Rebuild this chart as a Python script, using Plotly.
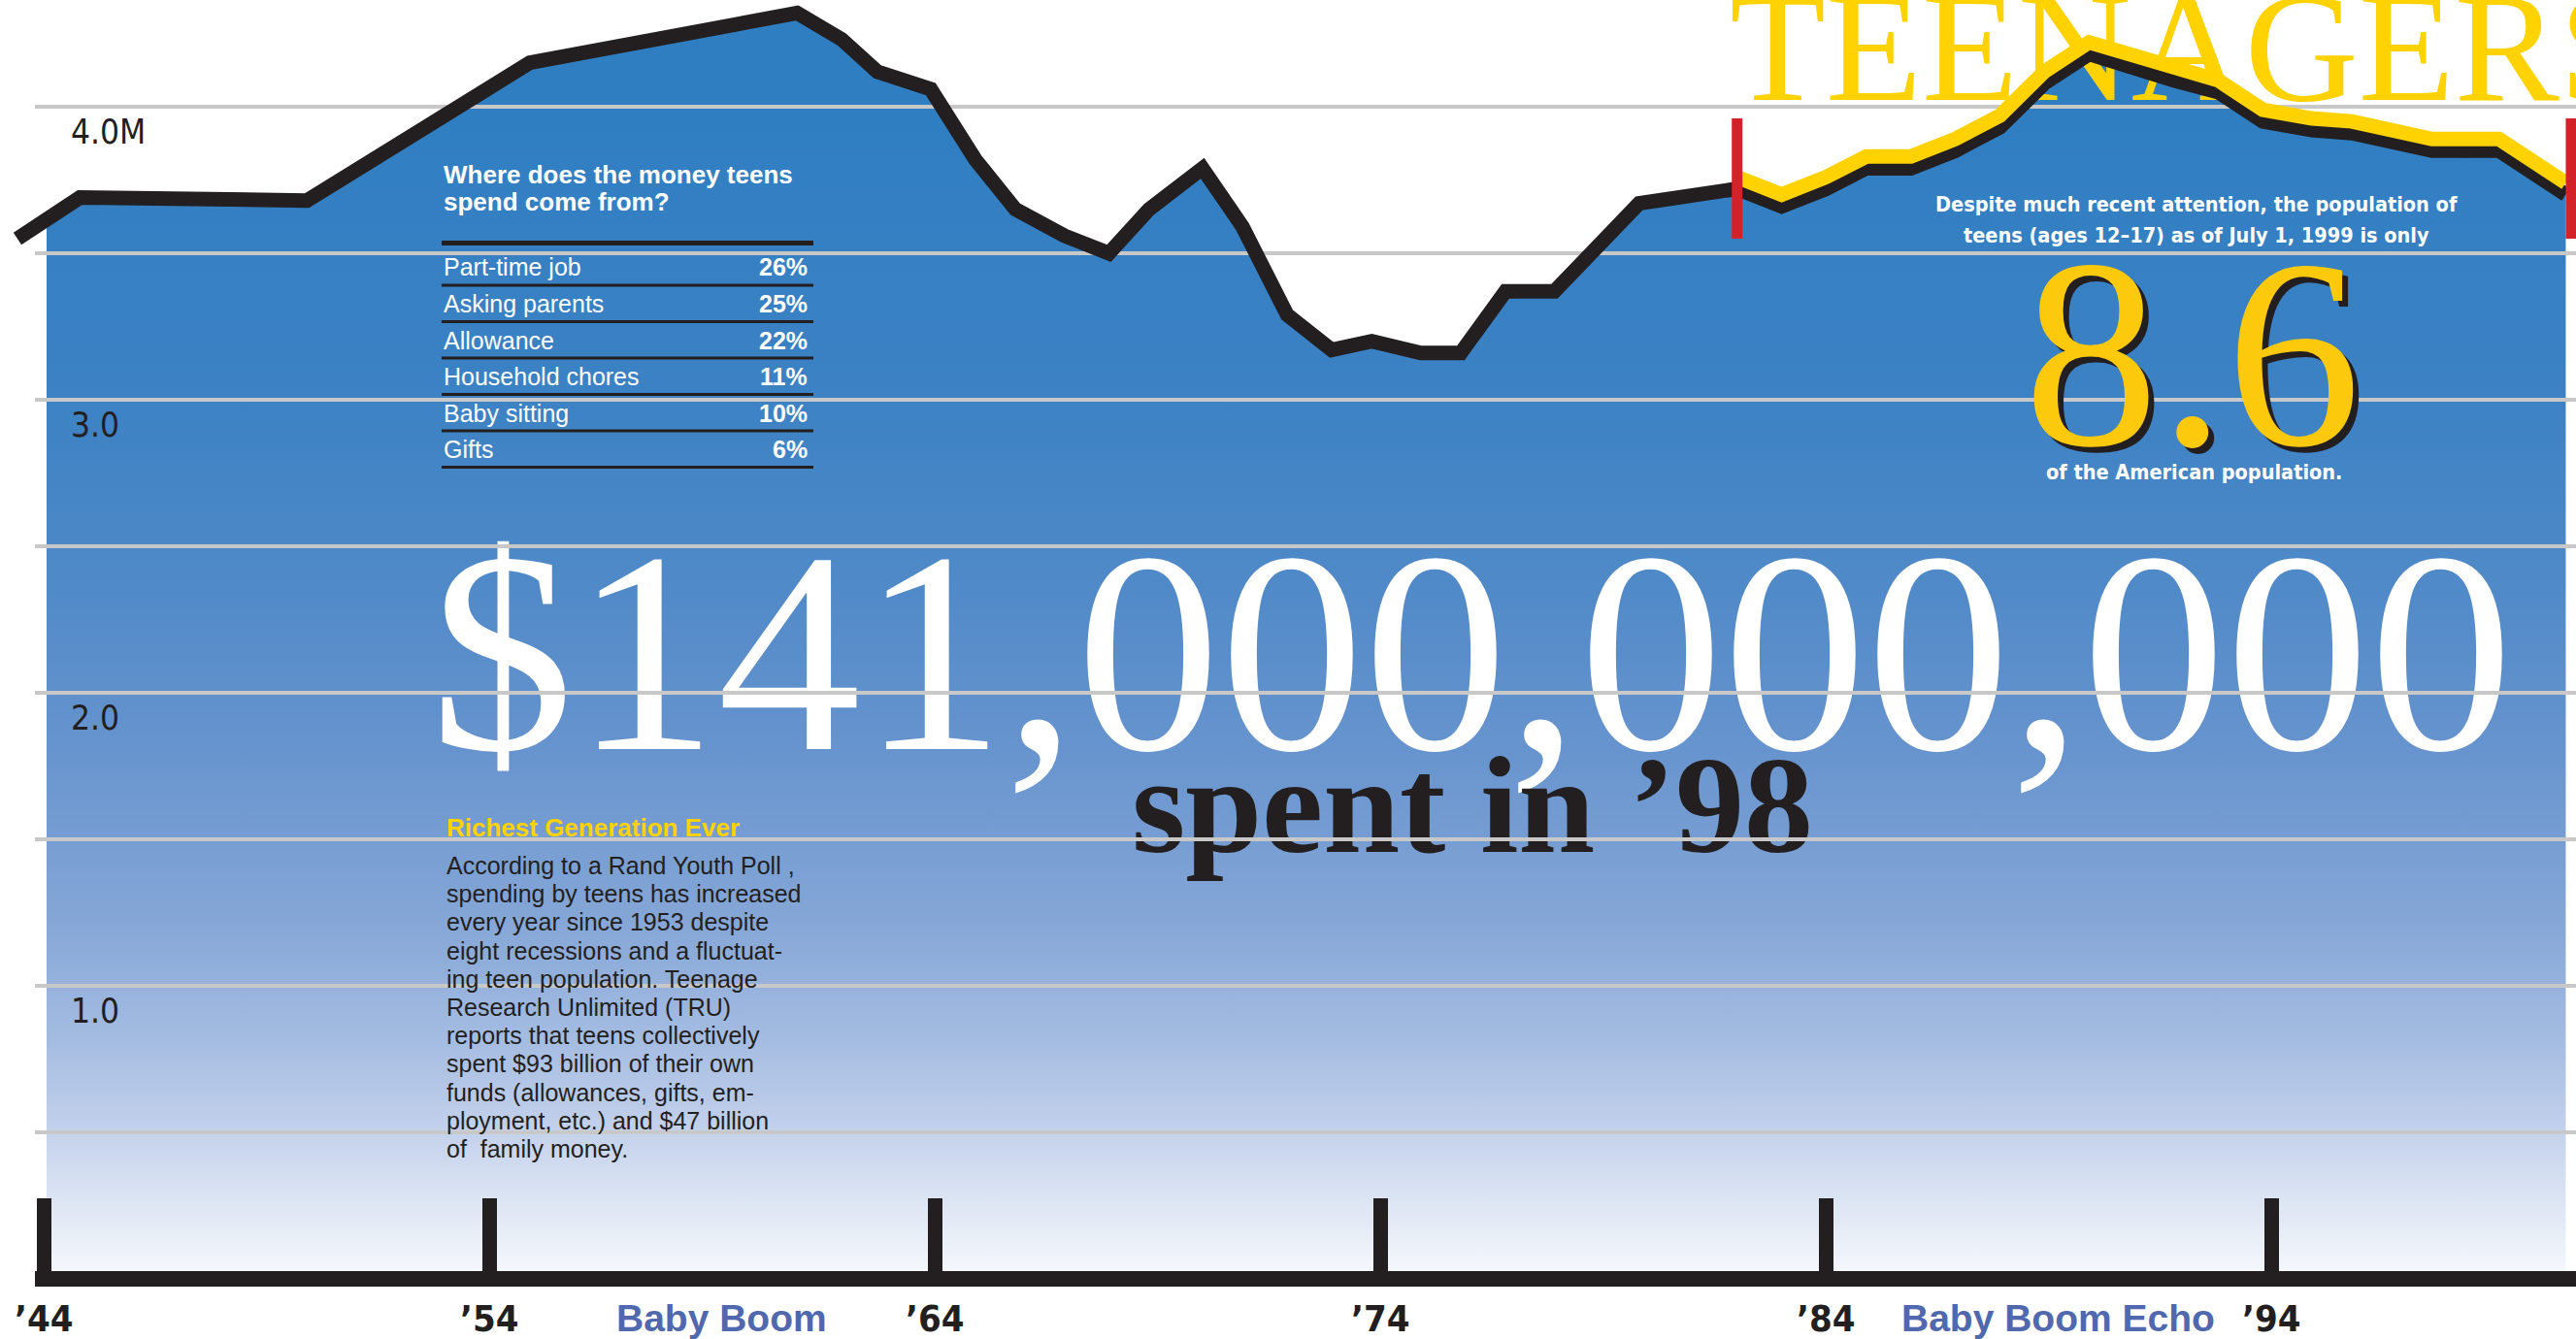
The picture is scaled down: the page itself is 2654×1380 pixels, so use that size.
import numpy as np
import plotly.graph_objects as go

# ---------------- data ----------------
years = [1943.4, 1944.8, 1949.9, 1954.9, 1960.9, 1961.9, 1962.7, 1963.9,
         1964.9, 1965.8, 1966.9, 1967.9, 1968.8, 1970.0, 1970.9, 1971.9,
         1972.9, 1973.8, 1974.9, 1975.8, 1976.8, 1977.9, 1979.8, 1980.9,
         1982.0, 1983.0, 1984.0, 1984.9, 1985.9, 1986.9, 1987.9, 1988.9,
         1989.9, 1991.8, 1992.8, 1993.8, 1994.9, 1995.8, 1997.6, 1999.1,
         2000.6]
births_m = [3.55, 3.69, 3.68, 4.15, 4.32, 4.23, 4.12, 4.06,
            3.82, 3.65, 3.56, 3.50, 3.65, 3.79, 3.59, 3.29,
            3.17, 3.20, 3.16, 3.16, 3.37, 3.37, 3.67, 3.69,
            3.72, 3.66, 3.72, 3.79, 3.79, 3.85, 3.93, 4.08,
            4.18, 4.09, 4.05, 3.95, 3.92, 3.91, 3.85, 3.85,
            3.70]
teen_span = [1982.0, 2000.72]

decade_years = [1944, 1954, 1964, 1974, 1984, 1994]
decade_labels = ["’44", "’54", "’64", "’74", "’84", "’94"]
grid_values = [0.5, 1.0, 1.5, 2.0, 2.5, 3.0, 3.5, 4.0]
y_label_values = [4.0, 3.0, 2.0, 1.0]
y_label_text = ["4.0M", "3.0", "2.0", "1.0"]
era_names = ["Baby Boom", "Baby Boom Echo"]
era_centers = [1959.2, 1989.2]

money_title = ["Where does the money teens", "spend come from?"]
money_sources = ["Part-time job", "Asking parents", "Allowance",
                 "Household chores", "Baby sitting", "Gifts"]
money_shares = [26, 25, 22, 11, 10, 6]

total_spent = "$141,000,000,000"
spent_caption = "spent in ’98"
headline = "TEENAGERS"
teen_share = "8.6"
teen_intro = ["Despite much recent attention, the population of",
              "teens (ages 12–17) as of July 1, 1999 is only"]
teen_outro = "of the American population."
story_title = "Richest Generation Ever"
story_lines = ["According to a Rand Youth Poll ,",
               "spending by teens has increased",
               "every year since 1953 despite",
               "eight recessions and a fluctuat-",
               "ing teen population. Teenage",
               "Research Unlimited (TRU)",
               "reports that teens collectively",
               "spent $93 billion of their own",
               "funds (allowances, gifts, em-",
               "ployment, etc.) and $47 billion",
               "of  family money."]

# ---------------- geometry / style ----------------
W, H = 2654, 1380
ORIGIN_YEAR, ORIGIN_PX, PX_PER_YEAR = 1944, 45.5, 45.9
BASE_PX, PX_PER_M = 1318.0, 302.0

BLACK = "#231f20"
GRID = "#c8c8c8"
YELLOW = "#ffd200"
RED = "#d2232a"
ERA_BLUE = "#5068ae"

SERIF = "Liberation Serif, Times New Roman, DejaVu Serif, serif"
SANS = "Liberation Sans, Arial, Helvetica, sans-serif"
NARROW = "Liberation Sans Narrow, Arial Narrow, DejaVu Sans Condensed, Liberation Sans, sans-serif"


def year_at(px):
    return ORIGIN_YEAR + (px - ORIGIN_PX) / PX_PER_YEAR


def val_at(py):
    return (BASE_PX - py) / PX_PER_M


def pxx(px):
    return px / W


def pyy(py):
    return 1 - py / H


x_range = [year_at(0), year_at(W)]
y_range = [val_at(H), val_at(0)]

fig = go.Figure()

# gradient area under the curve
fill_start = year_at(48)
fx = [fill_start] + [x for x in years if x > fill_start]
fy = [float(np.interp(fill_start, years, births_m))] + \
     [v for x, v in zip(years, births_m) if x > fill_start]
fig.add_trace(go.Scatter(
    x=fx, y=fy, mode="none", fill="tozeroy", hoverinfo="skip",
    fillgradient=dict(
        type="vertical", start=0, stop=4.0,
        colorscale=[[0.0, "#f7f9fd"], [0.06, "#dfe7f4"], [0.12, "#c6d3ec"],
                    [0.2, "#a6bde2"], [0.3, "#86a7d7"], [0.45, "#6794ce"],
                    [0.6, "#4f89c8"], [0.75, "#3c82c4"], [1.0, "#2f7ec2"]])))

# big typographic elements (under the grid)
fig.add_trace(go.Scatter(
    x=[year_at(1516)], y=[val_at(772 - 0.25 * 296)], mode="text",
    text=[total_spent], textposition="middle center", hoverinfo="skip",
    textfont=dict(family=SERIF, size=296, color="white")))
fig.add_trace(go.Scatter(
    x=[year_at(1517)], y=[val_at(878 - 0.25 * 142)], mode="text",
    text=["<b>" + spent_caption + "</b>"], textposition="middle center",
    hoverinfo="skip", textfont=dict(family=SERIF, size=142, color=BLACK)))
HEAD_SIZE = 162
fig.add_trace(go.Scatter(
    x=[year_at(1782)], y=[val_at(103 - 0.25 * HEAD_SIZE)], mode="text",
    text=[headline], textposition="middle right", hoverinfo="skip",
    textfont=dict(family=SERIF, size=HEAD_SIZE, color=YELLOW)))

# horizontal grid lines
gx, gy = [], []
for g in grid_values:
    gx += [year_at(36), year_at(W + 5), None]
    gy += [g, g, None]
fig.add_trace(go.Scatter(x=gx, y=gy, mode="lines", hoverinfo="skip",
                         line=dict(color=GRID, width=4)))

# main black line
fig.add_trace(go.Scatter(x=years, y=births_m, mode="lines", hoverinfo="skip",
                         line=dict(color=BLACK, width=15)))

# yellow highlight for the teen generation (black line acts as its shadow)
SHADOW = 0.04
ty = [(x, v + SHADOW) for x, v in zip(years, births_m) if x >= teen_span[0] - 0.05]
fig.add_trace(go.Scatter(x=[p[0] for p in ty], y=[p[1] for p in ty], mode="lines",
                         hoverinfo="skip", line=dict(color=YELLOW, width=15)))

shapes = []
# axis bar
shapes.append(dict(type="line", xref="paper", yref="y", x0=pxx(36), x1=1.01,
                   y0=0, y1=0, line=dict(color=BLACK, width=16), layer="above"))
# decade ticks
for d in decade_years:
    shapes.append(dict(type="line", xref="x", yref="y", x0=d, x1=d,
                       y0=0, y1=val_at(1235), line=dict(color=BLACK, width=15),
                       layer="above"))
# red brackets of the teen generation
for t in teen_span:
    shapes.append(dict(type="line", xref="x", yref="y", x0=t, x1=t,
                       y0=val_at(246), y1=val_at(122), line=dict(color=RED, width=11),
                       layer="above"))
# table rules
TBL_L, TBL_R = 455, 838
shapes.append(dict(type="line", xref="paper", yref="paper", x0=pxx(TBL_L), x1=pxx(TBL_R),
                   y0=pyy(250.5), y1=pyy(250.5), line=dict(color=BLACK, width=5)))
ROW0, ROW_STEP = 294.0, 37.5
for i in range(len(money_sources)):
    yy = ROW0 + i * ROW_STEP
    shapes.append(dict(type="line", xref="paper", yref="paper", x0=pxx(TBL_L), x1=pxx(TBL_R),
                       y0=pyy(yy), y1=pyy(yy), line=dict(color=BLACK, width=3)))

ann = []


def add_text(text, x, y, size, color, family, xanchor="left", xref="paper", yref="paper", **extra):
    font = dict(family=family, size=size, color=color)
    font.update(extra.pop("font_extra", {}))
    ann.append(dict(text=text, x=x, y=y, xref=xref, yref=yref, xanchor=xanchor,
                    yanchor="middle", showarrow=False, font=font, **extra))


# y labels
for v, lab in zip(y_label_values, y_label_text):
    add_text(lab, pxx(71), v - 26 / PX_PER_M, 35, BLACK, NARROW, yref="y")
# decade labels
for d, lab in zip(decade_years, decade_labels):
    add_text("<b>" + lab + "</b>", d, pyy(1359), 38, BLACK, NARROW, xanchor="center", xref="x")
# era labels
for name, c in zip(era_names, era_centers):
    add_text("<b>" + name + "</b>", c, pyy(1358), 39, ERA_BLUE, SANS, xanchor="center", xref="x")

# table
add_text("<b>" + money_title[0] + "</b>", pxx(TBL_L), pyy(180), 26, "white", SANS)
add_text("<b>" + money_title[1] + "</b>", pxx(TBL_L), pyy(208), 26, "white", SANS)
for i, (src, sh) in enumerate(zip(money_sources, money_shares)):
    cy = ROW0 + i * ROW_STEP - 18.5
    add_text(src, pxx(TBL_L), pyy(cy), 25, "white", SANS)
    add_text("<b>%d%%</b>" % sh, pxx(834), pyy(cy), 25, "white", SANS, xanchor="right")

# story text
add_text("<b>" + story_title + "</b>", pxx(458), pyy(852.5), 26, YELLOW, SANS)
for i, line in enumerate(story_lines):
    add_text(line, pxx(458), pyy(892 + 29.2 * i), 25, BLACK, SANS)

# teen share block
add_text("<b>" + teen_intro[0] + "</b>", pxx(2263), pyy(210), 21.5, "white", NARROW, xanchor="center")
add_text("<b>" + teen_intro[1] + "</b>", pxx(2263), pyy(243), 21.5, "white", NARROW, xanchor="center")
add_text(teen_share, pxx(2259), pyy(364), 278, "#fcc90c", SERIF, xanchor="center",
         font_extra=dict(shadow="6px 6px 0px " + BLACK))
add_text("<b>" + teen_outro + "</b>", pxx(2260), pyy(487), 21.5, "white", NARROW, xanchor="center")

fig.update_layout(
    width=W, height=H, margin=dict(l=0, r=0, t=0, b=0, pad=0),
    paper_bgcolor="white", plot_bgcolor="white", showlegend=False,
    hovermode=False, dragmode=False,
    xaxis=dict(range=x_range, visible=False, fixedrange=True),
    yaxis=dict(range=y_range, visible=False, fixedrange=True),
    shapes=shapes, annotations=ann,
)

fig.write_html("out.html", config={"displayModeBar": False},
               post_script="document.body.style.margin='0';document.body.style.overflow='hidden';")
